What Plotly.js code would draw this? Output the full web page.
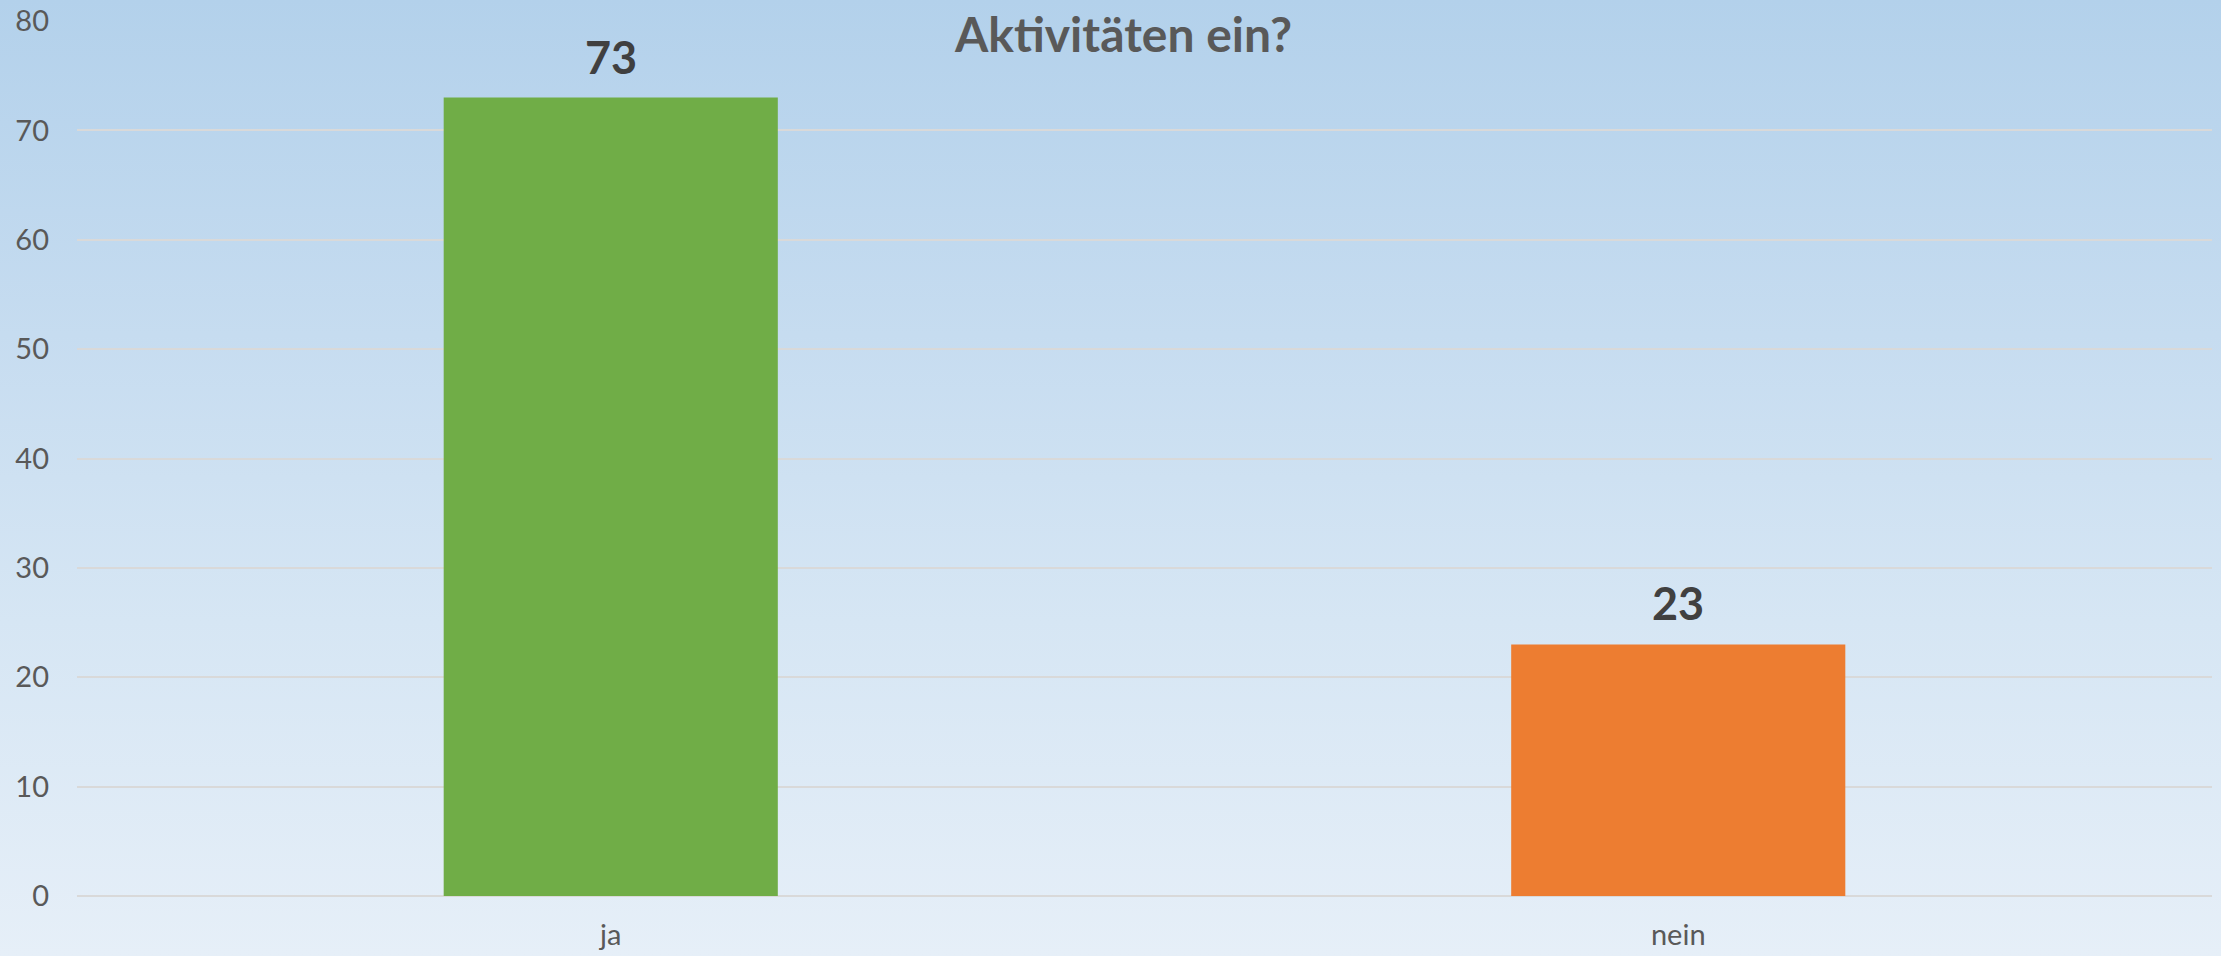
<!DOCTYPE html>
<html>
<head>
<meta charset="utf-8">
<script src="https://cdn.plot.ly/plotly-3.0.1.min.js"></script>
<style>
  html, body { margin: 0; padding: 0; }
  #chart {
    width: 2221px; height: 956px;
    background: linear-gradient(to bottom, #b3d1eb 0%, #c6dcf0 35%, #d6e6f4 65%, #e6eff8 100%);
  }
</style>
</head>
<body>
<div id="chart"></div>
<script>
const categories = ["ja", "nein"];
const values = [73, 23];
const barColors = ["#70ad47", "#ed7d31"];
const yTicks = [0, 10, 20, 30, 40, 50, 60, 70, 80];
const titleText = "Aktivitäten ein?";

const FONT = "Lato, 'Open Sans', sans-serif";

const trace = {
  type: "bar",
  x: categories,
  y: values,
  marker: { color: barColors, line: { width: 0 } },
  hoverinfo: "none"
};

const annotations = categories.map((c, i) => ({
  x: c, y: values[i], xref: "x", yref: "y",
  text: "<b>" + values[i] + "</b>",
  showarrow: false, yanchor: "bottom", yshift: 12,
  font: { family: FONT, size: 45, color: "#404040" }
}));

const layout = {
  width: 2221, height: 956,
  paper_bgcolor: "rgba(0,0,0,0)",
  plot_bgcolor: "rgba(0,0,0,0)",
  margin: { l: 77, r: 9, t: 21, b: 60 },
  bargap: 0.687,
  showlegend: false,
  title: {
    text: "<b>" + titleText + "</b>",
    x: 1123.5 / 2221, xref: "container", xanchor: "center",
    y: 1 - 35 / 956, yref: "container", yanchor: "middle",
    font: { family: FONT, size: 48, color: "#595959" }
  },
  xaxis: {
    type: "category",
    showgrid: false,
    showline: false,
    zeroline: false,
    ticks: "",
    ticklabelstandoff: 19,
    tickfont: { family: FONT, size: 29, color: "#595959" }
  },
  yaxis: {
    range: [0, 80],
    tickvals: yTicks,
    ticktext: yTicks.map(String),
    showgrid: true,
    gridcolor: "#d9d9d9",
    gridwidth: 2,
    zeroline: true,
    zerolinecolor: "#d9d9d9",
    zerolinewidth: 2,
    showline: false,
    ticks: "",
    ticklabelstandoff: 27,
    tickfont: { family: FONT, size: 29, color: "#595959" }
  },
  annotations: annotations
};

Plotly.newPlot("chart", [trace], layout, { displayModeBar: false, staticPlot: true });
</script>
</body>
</html>
